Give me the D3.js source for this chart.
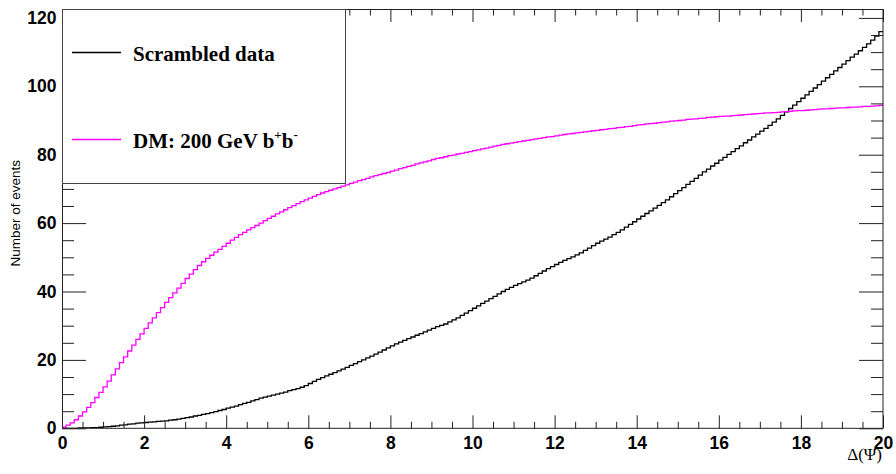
<!DOCTYPE html>
<html><head><meta charset="utf-8">
<script src="https://cdn.jsdelivr.net/npm/d3@7"></script>
<style>
html,body{margin:0;padding:0;background:#fff;}
svg{display:block;}
</style>
</head><body>
<svg id="c" width="896" height="474"></svg>
<script>
// ---- data ----
const binWidth = 0.1;
const xRange = [0, 20];
const yRange = [0, 122.6];
const xMajorTicks = [0, 2, 4, 6, 8, 10, 12, 14, 16, 18, 20];
const yMajorTicks = [0, 20, 40, 60, 80, 100, 120];
const xMinorStep = 0.5;
const yMinorStep = 5;
const seriesNames = ["Scrambled data", "DM: 200 GeV b+b-"];
const seriesColors = ["#000000", "#ff00ff"];

const scrambledValues = [
 0.0,0.0,0.0,0.0,0.1,0.1,0.1,0.2,0.2,0.3,
 0.4,0.5,0.6,0.7,0.9,1.0,1.2,1.3,1.5,1.6,
 1.7,1.8,1.9,2.0,2.1,2.2,2.4,2.5,2.7,2.9,
 3.1,3.3,3.6,3.8,4.1,4.3,4.6,4.9,5.2,5.5,
 5.9,6.2,6.5,6.9,7.3,7.6,8.0,8.4,8.8,9.1,
 9.4,9.7,10.0,10.3,10.6,11.0,11.3,11.6,12.0,12.5,
 13.1,13.7,14.3,14.8,15.3,15.8,16.3,16.8,17.3,17.8,
 18.4,18.9,19.5,20.0,20.6,21.1,21.7,22.3,22.9,23.5,
 24.1,24.7,25.2,25.7,26.2,26.7,27.2,27.7,28.2,28.7,
 29.2,29.7,30.1,30.5,31.1,31.7,32.3,33.0,33.7,34.4,
 35.1,35.8,36.5,37.2,37.9,38.6,39.3,40.0,40.6,41.2,
 41.8,42.3,42.8,43.3,43.9,44.6,45.3,46.0,46.7,47.3,
 47.9,48.5,49.1,49.6,50.1,50.7,51.3,52.0,52.7,53.4,
 54.1,54.7,55.3,55.9,56.6,57.3,58.0,58.8,59.6,60.4,
 61.2,62.0,62.8,63.6,64.4,65.2,66.0,66.8,67.7,68.6,
 69.5,70.4,71.3,72.2,73.1,74.0,75.0,75.8,76.7,77.5,
 78.4,79.2,80.1,80.9,81.8,82.6,83.5,84.3,85.2,86.0,
 86.9,87.7,88.6,89.5,90.5,91.5,92.5,93.5,94.5,95.5,
 96.5,97.5,98.5,99.5,100.5,101.5,102.5,103.5,104.5,105.5,
 106.5,107.5,108.5,109.4,110.4,111.4,112.4,113.5,114.7,116.0
];

const dmValues = [
 0.3,0.9,1.6,2.5,3.6,4.8,6.1,7.5,9.0,10.5,
 12.1,13.8,15.6,17.4,19.2,20.9,22.6,24.3,26.0,27.6,
 29.2,30.8,32.3,33.8,35.3,36.8,38.2,39.6,41.0,42.4,
 43.8,45.1,46.4,47.6,48.7,49.7,50.6,51.5,52.3,53.2,
 54.1,55.0,55.8,56.6,57.3,58.0,58.7,59.3,60.0,60.7,
 61.4,62.0,62.7,63.3,63.9,64.5,65.1,65.7,66.3,66.8,
 67.3,67.8,68.3,68.8,69.2,69.6,70.0,70.4,70.8,71.2,
 71.6,72.0,72.4,72.7,73.1,73.5,73.9,74.2,74.5,74.8,
 75.2,75.5,75.9,76.2,76.6,76.9,77.3,77.6,77.9,78.2,
 78.6,78.9,79.1,79.4,79.7,79.9,80.2,80.4,80.7,80.9,
 81.2,81.4,81.7,81.9,82.2,82.5,82.7,83.0,83.2,83.4,
 83.6,83.8,84.0,84.2,84.4,84.6,84.8,85.0,85.2,85.3,
 85.5,85.7,85.9,86.1,86.2,86.4,86.5,86.7,86.8,87.0,
 87.1,87.3,87.4,87.6,87.7,87.9,88.0,88.2,88.3,88.5,
 88.7,88.8,89.0,89.1,89.2,89.4,89.5,89.6,89.8,89.9,
 90.0,90.1,90.3,90.4,90.5,90.6,90.7,90.9,91.0,91.1,
 91.2,91.3,91.3,91.4,91.5,91.6,91.7,91.8,91.9,92.0,
 92.1,92.2,92.2,92.3,92.4,92.5,92.6,92.7,92.8,92.9,
 92.9,93.0,93.1,93.2,93.3,93.4,93.4,93.5,93.6,93.7,
 93.7,93.8,93.9,93.9,94.0,94.1,94.1,94.2,94.3,94.4
];

// ---- layout ----
const M = {left: 62, right: 883, top: 9, bottom: 428.3};
const svg = d3.select("#c");
const x = d3.scaleLinear().domain(xRange).range([M.left, M.right]);
const y = d3.scaleLinear().domain(yRange).range([M.bottom, M.top]);

const sansBold = "'Liberation Sans', Arial, Helvetica, sans-serif";
const serif = "'Liberation Serif', 'Times New Roman', serif";

svg.append("defs").append("clipPath").attr("id","plot")
  .append("rect").attr("x", M.left).attr("y", M.top)
  .attr("width", M.right - M.left).attr("height", M.bottom - M.top);

function histPoints(vals){
  const pts = vals.map((v,i)=>[i*binWidth, v]);
  pts.push([vals.length*binWidth, vals[vals.length-1]]);
  pts.unshift([0, 0]);
  return pts;
}
const line = d3.line().x(d=>x(d[0])).y(d=>y(d[1])).curve(d3.curveStepAfter);
const gH = svg.append("g").attr("clip-path","url(#plot)");
[scrambledValues, dmValues].forEach((vals, k)=>{
  gH.append("path").attr("d", line(histPoints(vals)))
    .attr("fill","none").attr("stroke", seriesColors[k]).attr("stroke-width",1.3);
});

const xMinor = d3.range(xRange[0], xRange[1] + 1e-9, xMinorStep).filter(v=>!xMajorTicks.includes(v));
const yMinor = d3.range(0, yRange[1], yMinorStep).filter(v=>!yMajorTicks.includes(v));

function styleAxis(g){
  g.select(".domain").remove();
  g.selectAll(".tick line").attr("stroke","#222").attr("stroke-width",1);
}
svg.append("g").attr("transform",`translate(0,${M.bottom})`)
  .call(d3.axisBottom(x).tickValues(xMajorTicks).tickSize(-13).tickPadding(8).tickFormat(d3.format("d")))
  .call(styleAxis)
  .call(g=>g.selectAll("text").attr("font-family",sansBold).attr("font-weight","bold").attr("font-size",17.5).attr("fill","#000"));
svg.append("g").attr("transform",`translate(0,${M.bottom})`)
  .call(d3.axisBottom(x).tickValues(xMinor).tickSize(-6.5).tickFormat(""))
  .call(styleAxis);
svg.append("g").attr("transform",`translate(0,${M.top})`)
  .call(d3.axisTop(x).tickValues(xMajorTicks).tickSize(-13).tickFormat(""))
  .call(styleAxis);
svg.append("g").attr("transform",`translate(0,${M.top})`)
  .call(d3.axisTop(x).tickValues(xMinor).tickSize(-6.5).tickFormat(""))
  .call(styleAxis);
svg.append("g").attr("transform",`translate(${M.left},0)`)
  .call(d3.axisLeft(y).tickValues(yMajorTicks).tickSize(-24).tickPadding(5.5).tickFormat(d3.format("d")))
  .call(styleAxis)
  .call(g=>g.selectAll("text").attr("font-family",sansBold).attr("font-weight","bold").attr("font-size",17.5).attr("fill","#000"));
svg.append("g").attr("transform",`translate(${M.left},0)`)
  .call(d3.axisLeft(y).tickValues(yMinor).tickSize(-12).tickFormat(""))
  .call(styleAxis);
svg.append("g").attr("transform",`translate(${M.right},0)`)
  .call(d3.axisRight(y).tickValues(yMajorTicks).tickSize(-24).tickFormat(""))
  .call(styleAxis);
svg.append("g").attr("transform",`translate(${M.right},0)`)
  .call(d3.axisRight(y).tickValues(yMinor).tickSize(-12).tickFormat(""))
  .call(styleAxis);

svg.append("rect").attr("x", M.left+0.5).attr("y", M.top+0.5)
  .attr("width", M.right - M.left - 0.5).attr("height", M.bottom - M.top - 0.5)
  .attr("fill","none").attr("stroke","#222").attr("stroke-width",1);

// axis titles
svg.append("text").attr("x", M.right - 1).attr("y", 460)
  .attr("text-anchor","end").attr("font-family", serif).attr("font-size",17).attr("fill","#000")
  .text("\u0394(\u03A8)");
svg.append("text").attr("transform","translate(20,160) rotate(-90)")
  .attr("text-anchor","end").attr("font-family","'Liberation Sans', Arial, sans-serif")
  .attr("font-size",13.5).attr("fill","#000").text("Number of events");

// legend
const lg = svg.append("g");
lg.append("rect").attr("x", M.left+0.5).attr("y", M.top+0.5).attr("width", 283).attr("height", 174)
  .attr("fill","#fff").attr("stroke","#444").attr("stroke-width",1);
const legendY = [52.5, 139.5];
seriesNames.forEach((name,k)=>{
  lg.append("line").attr("x1",72).attr("x2",121).attr("y1",legendY[k]).attr("y2",legendY[k])
    .attr("stroke", seriesColors[k]).attr("stroke-width",1.3);
  const t = lg.append("text").attr("x",133).attr("y",legendY[k]+8.5)
    .attr("font-family", serif).attr("font-weight","bold").attr("font-size",21).attr("fill","#000");
  if(k===0){ t.text(name); }
  else {
    t.append("tspan").text("DM: 200 GeV b");
    t.append("tspan").attr("font-size",13).attr("dy",-9).text("+");
    t.append("tspan").attr("dy",9).text("b");
    t.append("tspan").attr("font-size",13).attr("dy",-9).text("-");
  }
});
</script>
</body></html>
